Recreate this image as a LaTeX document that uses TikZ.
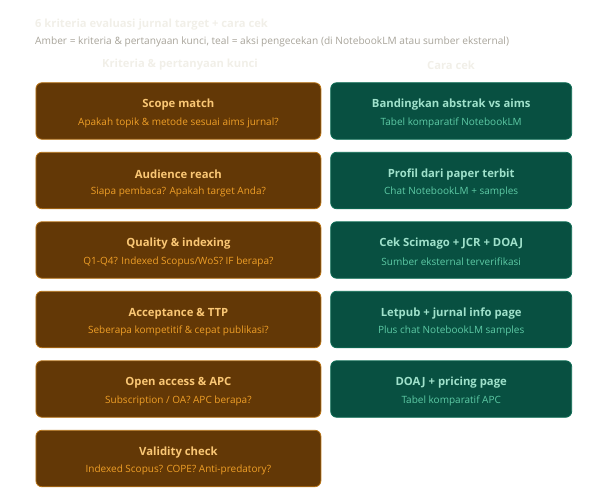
\documentclass[tikz,border=0pt]{standalone}
\usepackage{fontspec}
\setmainfont{Open Sans}
\definecolor{ambfill}{HTML}{633806}
\definecolor{ambline}{HTML}{BA7517}
\definecolor{ambtitle}{HTML}{FAC775}
\definecolor{ambsub}{HTML}{EF9F27}
\definecolor{tealfill}{HTML}{085041}
\definecolor{tealline}{HTML}{0F6E56}
\definecolor{tealtitle}{HTML}{9FE1CB}
\definecolor{tealsub}{HTML}{5DCAA5}
\definecolor{headlight}{HTML}{F1EFE8}
\definecolor{subgray}{HTML}{A8A49A}
\begin{document}
\begin{tikzpicture}[x=1pt,y=-1pt,
  ambbox/.style={draw=ambline, line width=0.8pt, fill=ambfill, rounded corners=6pt, minimum width=285pt, minimum height=56.5pt, inner sep=0pt},
  tealbox/.style={draw=tealline, line width=0.8pt, fill=tealfill, rounded corners=6pt, minimum width=241pt, minimum height=56.5pt, inner sep=0pt},
  ttl/.style={font=\fontsize{11.3}{13}\selectfont\bfseries, inner sep=0pt, anchor=center},
  sub/.style={font=\fontsize{10}{12}\selectfont, inner sep=0pt, anchor=center},
  hdr/.style={font=\fontsize{11.2}{13}\selectfont\bfseries, text=headlight, inner sep=0pt}
]
\useasboundingbox (0,0) rectangle (607,500);
\node[anchor=west, font=\fontsize{11.2}{13}\selectfont\bfseries, text=headlight, inner sep=0pt] (title) at (35,25) {6 kriteria evaluasi jurnal target + cara cek};
\node[anchor=west, font=\fontsize{10.15}{12}\selectfont, text=subgray, inner sep=0pt] (subtitle) at (35,41.7) {Amber = kriteria \& pertanyaan kunci, teal = aksi pengecekan (di NotebookLM atau sumber eksternal)};
\node[hdr] (hl) at (180,65) {Kriteria \& pertanyaan kunci};
\node[hdr] (hr) at (451,65) {Cara cek};

\foreach \i/\t/\s in {0/{Scope match}/{Apakah topik \& metode sesuai aims jurnal?},
  1/{Audience reach}/{Siapa pembaca? Apakah target Anda?},
  2/{Quality \& indexing}/{Q1-Q4? Indexed Scopus/WoS? IF berapa?},
  3/{Acceptance \& TTP}/{Seberapa kompetitif \& cepat publikasi?},
  4/{Open access \& APC}/{Subscription / OA? APC berapa?},
  5/{Validity check}/{Indexed Scopus? COPE? Anti-predatory?}}{
  \node[ambbox] (a\i) at (178.4,{111+69.5*\i}) {};
  \node[ttl, text=ambtitle] (at\i) at ([yshift=6.2pt]a\i.center) {\t};
  \node[sub, text=ambsub] (as\i) at ([yshift=-11.7pt]a\i.center) {\s};
}
\foreach \i/\t/\s in {0/{Bandingkan abstrak vs aims}/{Tabel komparatif NotebookLM},
  1/{Profil dari paper terbit}/{Chat NotebookLM + samples},
  2/{Cek Scimago + JCR + DOAJ}/{Sumber eksternal terverifikasi},
  3/{Letpub + jurnal info page}/{Plus chat NotebookLM samples},
  4/{DOAJ + pricing page}/{Tabel komparatif APC}}{
  \node[tealbox] (t\i) at (451.2,{111+69.5*\i}) {};
  \node[ttl, text=tealtitle] (tt\i) at ([yshift=6.2pt]t\i.center) {\t};
  \node[sub, text=tealsub] (ts\i) at ([yshift=-11.7pt]t\i.center) {\s};
}
\end{tikzpicture}
\end{document}
